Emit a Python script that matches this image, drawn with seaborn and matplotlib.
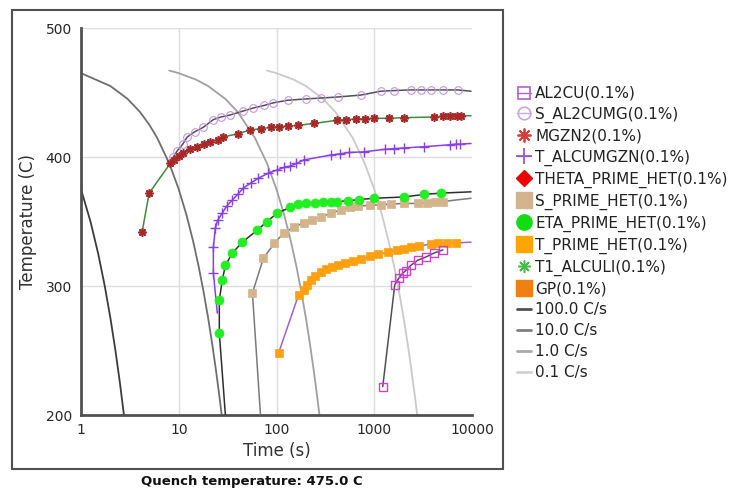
import matplotlib.pyplot as plt
from matplotlib.lines import Line2D
from matplotlib.patches import Rectangle
from matplotlib.ticker import MultipleLocator, LogLocator, NullFormatter
import seaborn as sns

# ==============================================================================
# TTP DIAGRAM - precipitation start curves (0.1%) vs cooling curves
# ==============================================================================

# --- phase curves (time in s, temperature in C) ---
t_al2cu = [1222, 1622, 1784, 1960, 2104, 2366, 2793, 3376, 4077, 5040]
T_al2cu = [222, 301, 306, 310, 312, 316, 320, 322.5, 325.5, 328]

t_s_al2cumg = [8.8, 9.7, 11, 12.2, 14.5, 17.8, 22.6, 27, 33.7, 45, 58, 75, 93, 130,
               200, 283, 422, 727, 1166, 1600, 2366, 3000, 3800, 5000, 7180, 9770]
T_s_al2cumg = [400, 405, 410, 415.5, 419.5, 423, 429, 431, 432.6, 435.5, 438, 440, 442, 444,
               445, 445.7, 446.5, 448, 451, 451.5, 452, 452, 452, 452, 452, 451]

t_mgzn2 = [4.22, 4.98, 8.18, 9, 10, 11.1, 13, 15.5, 18, 21, 25, 28.6, 40, 54, 70, 87, 105,
           130, 164, 240, 420, 520, 650, 800, 1000, 1420, 2010, 4100, 5000, 6000, 7000, 7700, 9770]
T_mgzn2 = [342, 372, 395, 398, 401, 403, 406, 408, 410, 411.6, 413.5, 415.5, 418, 421, 422, 423, 423.5,
           424, 424.5, 426, 428.5, 429, 429.5, 429.5, 430, 430, 430.5, 431, 431.5, 432, 432, 432, 432]

t_t_alcumgzn = [24.8, 22.6, 22.6, 23.7, 25, 27.9, 31, 35.4, 40, 45.9, 55, 65, 82.8, 102, 120,
                139, 160, 189, 358, 450, 550, 780, 1300, 1600, 2010, 3220, 6000, 6850, 7600, 9770]
T_t_alcumgzn = [279, 310, 330, 345, 351, 356.6, 362, 366.7, 371, 376, 380, 383.5, 387.5, 390, 392,
                393, 395, 397.7, 401.5, 402.5, 403.5, 404, 406, 406.5, 407, 408, 409.5, 410, 410, 410.5]

t_eta = [30, 26, 26, 27.9, 30, 35.4, 44.8, 63.8, 80, 102, 139, 164, 200, 250, 300, 358,
         420, 535, 700, 988, 2010, 3220, 4810, 9770]
T_eta = [200, 263.6, 289, 304.7, 316, 325.6, 334, 343.4, 350, 356.6, 361, 363.6, 364, 364.5, 365, 365,
         365.5, 366, 367, 368, 369, 371, 372, 373]

t_s_prime = [68.6, 56.7, 73.6, 95, 118, 150, 189, 230, 283, 360, 453, 560, 677, 900, 1166,
             1500, 2000, 2793, 3500, 4200, 5040, 9770]
T_s_prime = [200, 294.6, 321.7, 333, 341, 345.5, 349, 351.5, 353.5, 356.5, 359, 361, 362, 362.5, 363,
             363.5, 364, 364, 364.5, 365, 365.5, 368]

t_t_prime = [105, 168, 190, 205, 223, 250, 283, 320, 370, 422, 500, 600, 727, 900, 1100, 1375,
             1700, 2000, 2366, 2900, 3800, 4500, 5500, 6850, 9770]
T_t_prime = [248, 293, 297, 301, 305, 308, 311, 313, 315, 316.3, 318, 319.5, 321, 323, 324.5, 326,
             328, 329, 330, 331, 332.6, 333, 333.2, 333.3, 334]

# --- cooling curves ---
t_cool_100 = [1, 1.25, 1.5, 1.75, 2, 2.25, 2.5, 2.75]
T_cool_100 = [375, 350, 325, 300, 275, 250, 225, 200]
t_cool_10 = [1, 2, 3, 4, 5, 6, 8, 10, 12, 14, 16, 18, 20, 22, 24, 26, 27.5]
T_cool_10 = [465, 455, 445, 435, 425, 415, 395, 375, 355, 335, 315, 295, 275, 255, 235, 215, 200]
t_cool_1 = [8, 10, 15, 20, 30, 40, 60, 80, 100, 120, 140, 160, 180, 200, 220, 240, 260, 275]
T_cool_1 = [467, 465, 460, 455, 445, 435, 415, 395, 375, 355, 335, 315, 295, 275, 255, 235, 215, 200]
t_cool_01 = [80, 100, 150, 200, 300, 400, 600, 800, 1000, 1200, 1400, 1600, 1800, 2000, 2200, 2400, 2600, 2750]
T_cool_01 = [467, 465, 460, 455, 445, 435, 415, 395, 375, 355, 335, 315, 295, 275, 255, 235, 215, 200]

phase_labels = ['AL2CU(0.1%)', 'S_AL2CUMG(0.1%)', 'MGZN2(0.1%)', 'T_ALCUMGZN(0.1%)',
                'THETA_PRIME_HET(0.1%)', 'S_PRIME_HET(0.1%)', 'ETA_PRIME_HET(0.1%)',
                'T_PRIME_HET(0.1%)', 'T1_ALCULI(0.1%)', 'GP(0.1%)']
rate_labels = ['100.0 C/s', '10.0 C/s', '1.0 C/s', '0.1 C/s']
x_ticks = [1, 10, 100, 1000, 10000]
x_ticklabels = ['1', '10', '100', '1000', '10000']
y_ticks = [200, 300, 400, 500]

# ==============================================================================
# FIGURE
# ==============================================================================
sns.set_style("white")
plt.rcParams['font.family'] = ['DejaVu Sans']

fig = plt.figure(figsize=(7.36, 4.99), dpi=100)
ax = fig.add_axes([81 / 736, 1 - 415 / 499, 391 / 736, 387 / 499])
ax.set_xscale('log')
ax.set_xlim(1, 10000)
ax.set_ylim(200, 500)

# light grid at the major ticks
for xv in [10, 100, 1000]:
    ax.axvline(xv, color='#dedede', lw=1, zorder=0)
for yv in [300, 400, 500]:
    ax.axhline(yv, color='#dedede', lw=1, zorder=0)

# --- cooling curves ---
cool_colors = ['#3c3c3c', '#6e6e6e', '#a0a0a0', '#cacaca']
cool_data = [(t_cool_100, T_cool_100), (t_cool_10, T_cool_10),
             (t_cool_1, T_cool_1), (t_cool_01, T_cool_01)]
for (tc, Tc), col in zip(cool_data, cool_colors):
    sns.lineplot(x=tc, y=Tc, ax=ax, sort=False, estimator=None, color=col, lw=1.3, zorder=2)

# --- phase curves ---
def phase(t, T, line_col, marker, ms, mfc, mec, mew=1.0, every=None):
    sns.lineplot(x=t, y=T, ax=ax, sort=False, estimator=None, color=line_col, lw=1.1,
                 marker=marker, markersize=ms, markerfacecolor=mfc, markeredgecolor=mec,
                 markeredgewidth=mew, markevery=every, zorder=3)

phase(t_s_al2cumg, T_s_al2cumg, '#505050', 'o', 5.5, 'none', '#c495e6', 0.8, slice(0, -1))
phase(t_mgzn2, T_mgzn2, '#3f8a3f', (8, 2, 0), 6, '#a82828', '#a82828', 1.2, slice(0, -1))
phase(t_t_alcumgzn, T_t_alcumgzn, '#8a3fe0', '+', 7, '#8a3fe0', '#8a3fe0', 1.0, slice(1, -1))
phase(t_s_prime, T_s_prime, '#7a7a7a', 's', 6, '#d4b48c', '#d4b48c', 0.5, slice(1, -1))
phase(t_eta, T_eta, '#2e2e2e', 'o', 6.5, '#22ee22', '#22ee22', 0.5, slice(1, -1))
phase(t_t_prime, T_t_prime, '#9a62d8', 's', 6, '#ffa010', '#ffa010', 0.5, slice(0, -1))
phase(t_al2cu, T_al2cu, '#505050', 's', 6, 'none', '#d040d0', 1.0)

# --- axes styling ---
for side in ['top', 'right']:
    ax.spines[side].set_visible(False)
for side in ['left', 'bottom']:
    ax.spines[side].set_color('#505050')
    ax.spines[side].set_linewidth(2)

ax.set_xticks(x_ticks, labels=x_ticklabels)
ax.set_yticks(y_ticks)
ax.xaxis.set_minor_locator(LogLocator(base=10, subs=range(2, 10)))
ax.xaxis.set_minor_formatter(NullFormatter())
ax.yaxis.set_minor_locator(MultipleLocator(50))
ax.tick_params(which='major', direction='inout', length=7, width=1.2, color='#505050',
               labelsize=10, labelcolor='#262626')
ax.tick_params(axis='x', which='major', pad=2)
ax.tick_params(axis='y', which='major', pad=3)
ax.tick_params(which='minor', direction='inout', length=5, width=1.0, color='#505050')

ax.set_xlabel('Time (s)', fontsize=12, color='#303030', labelpad=4)
ax.set_ylabel('Temperature (C)', fontsize=12, color='#303030', labelpad=6)

# outer frame and caption
fig.add_artist(Rectangle((12 / 736, 1 - 469 / 499), 491 / 736, 459 / 499,
                         transform=fig.transFigure, fill=False, ec='#505050', lw=1.5))
fig.text(252 / 736, 1 - 481 / 499, 'Quench temperature: 475.0 C', ha='center', va='center',
         fontsize=9.5, fontweight='bold', color='#111111')

# --- legend ---
handles = [
    Line2D([], [], color='#b060d0', lw=1, marker='s', ms=9, mfc='none', mec='#b060d0', mew=1.2),
    Line2D([], [], color='#c8a8e4', lw=1, marker='o', ms=9, mfc='none', mec='#c8a8e4', mew=1.2),
    Line2D([], [], ls='none', marker=(8, 2, 0), ms=10, mec='#d04040', mew=1.3),
    Line2D([], [], color='#9955dd', lw=1, marker='+', ms=11, mec='#9955dd', mew=1.3),
    Line2D([], [], ls='none', marker='D', ms=8, mfc='#ee0000', mec='#ee0000'),
    Line2D([], [], ls='none', marker='s', ms=12, mfc='#d4b48c', mec='#d4b48c'),
    Line2D([], [], ls='none', marker='o', ms=11, mfc='#11dd11', mec='#11dd11'),
    Line2D([], [], ls='none', marker='s', ms=12, mfc='#ffa500', mec='#ffa500'),
    Line2D([], [], ls='none', marker=(8, 2, 0), ms=9, mec='#44bb44', mew=1.1),
    Line2D([], [], ls='none', marker='s', ms=12, mfc='#f08010', mec='#f08010'),
]
handles += [Line2D([], [], color=c, lw=2) for c in ['#505050', '#808080', '#a8a8a8', '#d0d0d0']]

fig.legend(handles=handles, labels=phase_labels + rate_labels, loc='upper left',
           bbox_to_anchor=(517 / 736, 1 - 86 / 499), frameon=False, fontsize=11,
           handlelength=0.9, handletextpad=0.3, labelspacing=0.38, borderpad=0,
           borderaxespad=0, labelcolor='#222222')

plt.savefig('out.png', dpi=100)
